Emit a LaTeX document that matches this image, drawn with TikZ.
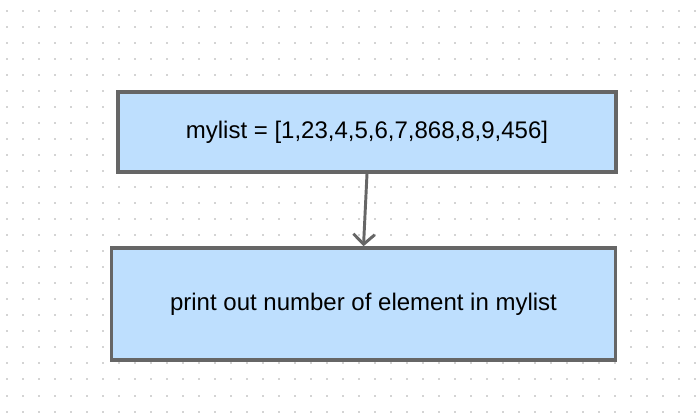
\documentclass[tikz,border=0pt]{standalone}
\usepackage{fontspec}
\setmainfont{Liberation Sans}
\usepackage{xcolor}
\usetikzlibrary{arrows.meta,positioning}

\definecolor{boxfill}{RGB}{190,223,254}
\definecolor{boxline}{RGB}{102,102,102}
\definecolor{griddot}{RGB}{212,212,212}

\begin{document}
\begin{tikzpicture}[x=0.75pt,y=-0.75pt,
  block/.style={rectangle, draw=boxline, fill=boxfill, line width=2.6pt,
    font=\fontsize{18}{22}\selectfont, inner sep=0pt}]
\useasboundingbox (0,0) rectangle (700,420);
\fill[white] (0,0) rectangle (700,420);
% dotted grid
\foreach \i in {0,...,43}
  \foreach \j in {0,...,25}
    \fill[griddot] (5.5+16*\i,10.5+16*\j) rectangle +(2,2);

\node[block, minimum width=373.5pt, minimum height=60pt] (mylist) at (367,132) {mylist = [1,23,4,5,6,7,868,8,9,456]};
\node[block, minimum width=378pt, minimum height=84pt] (printout) at (363.5,304) {print out number of element in mylist};

\draw[boxline, line width=2.2pt, -{Straight Barb[length=7.5pt,width=16pt]}] (mylist.south) -- (printout.north);
\end{tikzpicture}
\end{document}
